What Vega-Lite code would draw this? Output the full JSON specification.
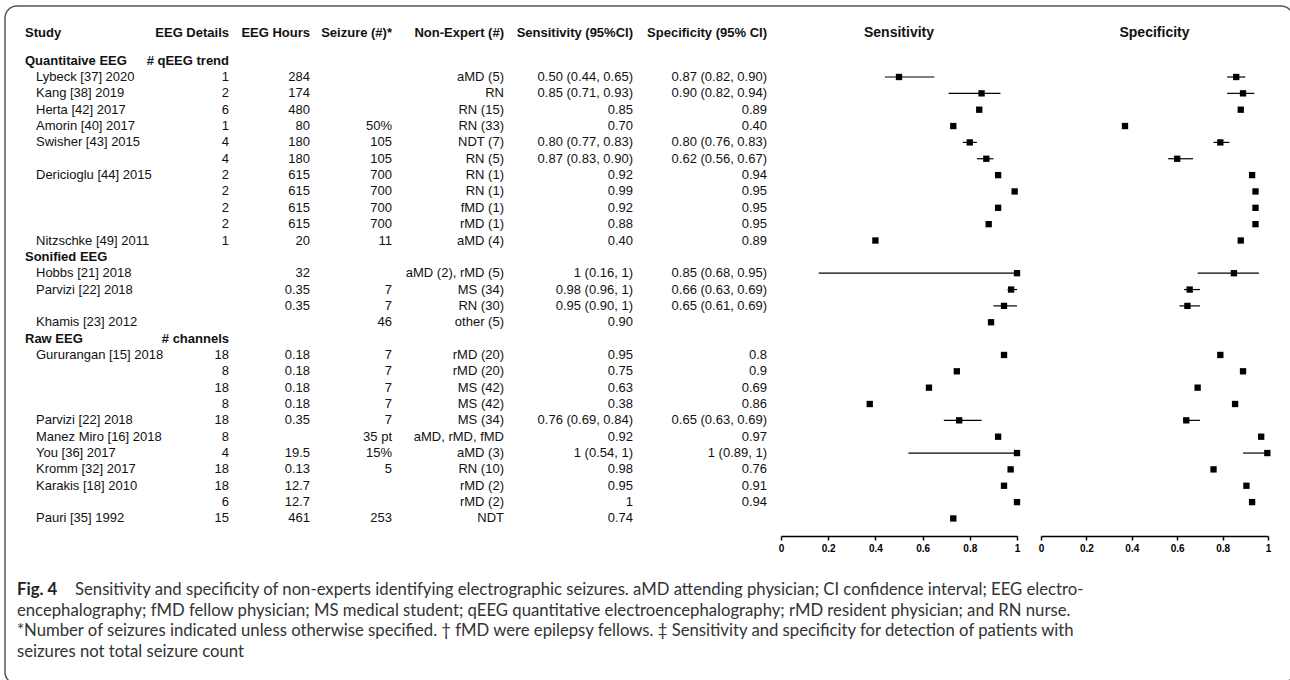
{
  "$schema": "https://vega.github.io/schema/vega-lite/v6.json",
  "width": 1288,
  "height": 678,
  "autosize": {"type": "none"},
  "padding": {"left": 5, "top": 6, "right": 0, "bottom": 0},
  "background": "white",
  "config": {
    "view": {"stroke": "#555", "strokeWidth": 1.5, "cornerRadius": 12},
    "text": {"font": "Liberation Sans", "fontSize": 13, "color": "#111"},
    "axisX": {"orient": "bottom", "offset": -148, "title": null, "grid": false, "labelFlush": false, "labelOverlap": false, "domainColor": "#000", "domainWidth": 1.5, "tickColor": "#000", "tickWidth": 1.5, "tickSize": 4, "labelFont": "Liberation Sans", "labelFontWeight": "bold", "labelFontSize": 10, "labelColor": "#000", "labelPadding": 3}
  },
  "datasets": {
    "t": [
      {"row": -1, "group": "Quantitaive EEG", "sub": "# qEEG trend"},
      {"row": 0, "study": "Lybeck [37] 2020", "details": "1", "hours": "284", "nonexpert": "aMD (5)", "sens_txt": "0.50 (0.44, 0.65)", "spec_txt": "0.87 (0.82, 0.90)", "sens": 0.50, "sens_lo": 0.44, "sens_hi": 0.65, "spec": 0.86, "spec_lo": 0.82, "spec_hi": 0.90},
      {"row": 1, "study": "Kang [38] 2019", "details": "2", "hours": "174", "nonexpert": "RN", "sens_txt": "0.85 (0.71, 0.93)", "spec_txt": "0.90 (0.82, 0.94)", "sens": 0.85, "sens_lo": 0.71, "sens_hi": 0.93, "spec": 0.89, "spec_lo": 0.82, "spec_hi": 0.94},
      {"row": 2, "study": "Herta [42] 2017", "details": "6", "hours": "480", "nonexpert": "RN (15)", "sens_txt": "0.85", "spec_txt": "0.89", "sens": 0.84, "spec": 0.88},
      {"row": 3, "study": "Amorin [40] 2017", "details": "1", "hours": "80", "seizures": "50%", "nonexpert": "RN (33)", "sens_txt": "0.70", "spec_txt": "0.40", "sens": 0.73, "spec": 0.37},
      {"row": 4, "study": "Swisher [43] 2015", "details": "4", "hours": "180", "seizures": "105", "nonexpert": "NDT (7)", "sens_txt": "0.80 (0.77, 0.83)", "spec_txt": "0.80 (0.76, 0.83)", "sens": 0.80, "sens_lo": 0.77, "sens_hi": 0.83, "spec": 0.79, "spec_lo": 0.76, "spec_hi": 0.83},
      {"row": 5, "details": "4", "hours": "180", "seizures": "105", "nonexpert": "RN (5)", "sens_txt": "0.87 (0.83, 0.90)", "spec_txt": "0.62 (0.56, 0.67)", "sens": 0.87, "sens_lo": 0.83, "sens_hi": 0.90, "spec": 0.60, "spec_lo": 0.56, "spec_hi": 0.67},
      {"row": 6, "study": "Dericioglu [44] 2015", "details": "2", "hours": "615", "seizures": "700", "nonexpert": "RN (1)", "sens_txt": "0.92", "spec_txt": "0.94", "sens": 0.92, "spec": 0.93},
      {"row": 7, "details": "2", "hours": "615", "seizures": "700", "nonexpert": "RN (1)", "sens_txt": "0.99", "spec_txt": "0.95", "sens": 0.99, "spec": 0.945},
      {"row": 8, "details": "2", "hours": "615", "seizures": "700", "nonexpert": "fMD (1)", "sens_txt": "0.92", "spec_txt": "0.95", "sens": 0.92, "spec": 0.945},
      {"row": 9, "details": "2", "hours": "615", "seizures": "700", "nonexpert": "rMD (1)", "sens_txt": "0.88", "spec_txt": "0.95", "sens": 0.88, "spec": 0.945},
      {"row": 10, "study": "Nitzschke [49] 2011", "details": "1", "hours": "20", "seizures": "11", "nonexpert": "aMD (4)", "sens_txt": "0.40", "spec_txt": "0.89", "sens": 0.40, "spec": 0.88},
      {"row": 11, "group": "Sonified EEG"},
      {"row": 12, "study": "Hobbs [21] 2018", "hours": "32", "nonexpert": "aMD (2), rMD (5)", "sens_txt": "1 (0.16, 1)", "spec_txt": "0.85 (0.68, 0.95)", "sens": 1, "sens_lo": 0.16, "sens_hi": 1, "spec": 0.85, "spec_lo": 0.69, "spec_hi": 0.96},
      {"row": 13, "study": "Parvizi [22] 2018", "hours": "0.35", "seizures": "7", "nonexpert": "MS (34)", "sens_txt": "0.98 (0.96, 1)", "spec_txt": "0.66 (0.63, 0.69)", "sens": 0.975, "sens_lo": 0.96, "sens_hi": 1, "spec": 0.655, "spec_lo": 0.63, "spec_hi": 0.70},
      {"row": 14, "hours": "0.35", "seizures": "7", "nonexpert": "RN (30)", "sens_txt": "0.95 (0.90, 1)", "spec_txt": "0.65 (0.61, 0.69)", "sens": 0.945, "sens_lo": 0.90, "sens_hi": 1, "spec": 0.645, "spec_lo": 0.61, "spec_hi": 0.70},
      {"row": 15, "study": "Khamis [23] 2012", "seizures": "46", "nonexpert": "other (5)", "sens_txt": "0.90", "sens": 0.89},
      {"row": 16, "group": "Raw EEG", "sub": "# channels"},
      {"row": 17, "study": "Gururangan [15] 2018", "details": "18", "hours": "0.18", "seizures": "7", "nonexpert": "rMD (20)", "sens_txt": "0.95", "spec_txt": "0.8", "sens": 0.945, "spec": 0.79},
      {"row": 18, "details": "8", "hours": "0.18", "seizures": "7", "nonexpert": "rMD (20)", "sens_txt": "0.75", "spec_txt": "0.9", "sens": 0.745, "spec": 0.89},
      {"row": 19, "details": "18", "hours": "0.18", "seizures": "7", "nonexpert": "MS (42)", "sens_txt": "0.63", "spec_txt": "0.69", "sens": 0.627, "spec": 0.69},
      {"row": 20, "details": "8", "hours": "0.18", "seizures": "7", "nonexpert": "MS (42)", "sens_txt": "0.38", "spec_txt": "0.86", "sens": 0.376, "spec": 0.855},
      {"row": 21, "study": "Parvizi [22] 2018", "details": "18", "hours": "0.35", "seizures": "7", "nonexpert": "MS (34)", "sens_txt": "0.76 (0.69, 0.84)", "spec_txt": "0.65 (0.63, 0.69)", "sens": 0.755, "sens_lo": 0.69, "sens_hi": 0.85, "spec": 0.64, "spec_lo": 0.625, "spec_hi": 0.70},
      {"row": 22, "study": "Manez Miro [16] 2018", "details": "8", "seizures": "35 pt", "nonexpert": "aMD, rMD, fMD", "sens_txt": "0.92", "spec_txt": "0.97", "sens": 0.92, "spec": 0.97},
      {"row": 23, "study": "You [36] 2017", "details": "4", "hours": "19.5", "seizures": "15%", "nonexpert": "aMD (3)", "sens_txt": "1 (0.54, 1)", "spec_txt": "1 (0.89, 1)", "sens": 1, "sens_lo": 0.54, "sens_hi": 1, "spec": 0.997, "spec_lo": 0.89, "spec_hi": 1},
      {"row": 24, "study": "Kromm [32] 2017", "details": "18", "hours": "0.13", "seizures": "5", "nonexpert": "RN (10)", "sens_txt": "0.98", "spec_txt": "0.76", "sens": 0.973, "spec": 0.76},
      {"row": 25, "study": "Karakis [18] 2010", "details": "18", "hours": "12.7", "nonexpert": "rMD (2)", "sens_txt": "0.95", "spec_txt": "0.91", "sens": 0.945, "spec": 0.905},
      {"row": 26, "details": "6", "hours": "12.7", "nonexpert": "rMD (2)", "sens_txt": "1", "spec_txt": "0.94", "sens": 1, "spec": 0.93},
      {"row": 27, "study": "Pauri [35] 1992", "details": "15", "hours": "461", "seizures": "253", "nonexpert": "NDT", "sens_txt": "0.74", "sens": 0.73}
    ],
    "cols": [
      {"key": "study", "name": "Study", "col": 0},
      {"key": "details", "name": "EEG Details", "col": 2},
      {"key": "hours", "name": "EEG Hours", "col": 3},
      {"key": "seizures", "name": "Seizure (#)*", "col": 4},
      {"key": "nonexpert", "name": "Non-Expert (#)", "col": 5},
      {"key": "sens_txt", "name": "Sensitivity (95%CI)", "col": 6},
      {"key": "spec_txt", "name": "Specificity (95% CI)", "col": 7}
    ],
    "cap": [
      {"line": 1, "lead": "Fig. 4", "txt": "Sensitivity and specificity of non-experts identifying electrographic seizures. aMD attending physician; CI confidence interval; EEG electro-"},
      {"line": 2, "txt": "encephalography; fMD fellow physician; MS medical student; qEEG quantitative electroencephalography; rMD resident physician; and RN nurse."},
      {"line": 3, "txt": "*Number of seizures indicated unless otherwise specified. † fMD were epilepsy fellows. ‡ Sensitivity and specificity for detection of patients with"},
      {"line": 4, "txt": "seizures not total seizure count"}
    ],
    "panels": [{"panel": "Sensitivity"}],
    "panels2": [{"panel": "Specificity"}]
  },
  "resolve": {"scale": {"x": "independent", "y": "independent"}, "axis": {"x": "independent", "y": "independent"}},
  "layer": [
    {
      "layer": [
        {
          "data": {"name": "t"},
          "transform": [{"filter": "isValid(datum.study)"}],
          "mark": {"type": "text", "align": "left"},
          "encoding": {
            "x": {"datum": 1, "type": "quantitative", "scale": {"domain": [0, 1, 2, 3, 4, 5, 6, 7], "range": [20, 31, 224, 305, 387, 499, 628, 762], "nice": false, "zero": false}, "axis": null},
            "y": {"field": "row", "type": "quantitative", "scale": {"domain": [0, 27], "range": [71, 512.45], "nice": false, "zero": false}, "axis": null},
            "text": {"field": "study"}
          }
        },
        {
          "data": {"name": "t"},
          "transform": [{"filter": "isValid(datum.group)"}],
          "mark": {"type": "text", "align": "left", "fontWeight": "bold"},
          "encoding": {
            "x": {"datum": 0, "type": "quantitative", "axis": null},
            "y": {"field": "row", "type": "quantitative", "axis": null},
            "text": {"field": "group"}
          }
        },
        {
          "data": {"name": "t"},
          "transform": [{"filter": "isValid(datum.sub)"}],
          "mark": {"type": "text", "align": "right", "fontWeight": "bold"},
          "encoding": {
            "x": {"datum": 2, "type": "quantitative", "axis": null},
            "y": {"field": "row", "type": "quantitative", "axis": null},
            "text": {"field": "sub"}
          }
        },
        {
          "data": {"name": "t"},
          "transform": [
            {"fold": ["details", "hours", "seizures", "nonexpert", "sens_txt", "spec_txt"], "as": ["key", "txt"]},
            {"filter": "isValid(datum.txt)"},
            {"lookup": "key", "from": {"data": {"name": "cols"}, "key": "key", "fields": ["col"]}}
          ],
          "mark": {"type": "text", "align": "right"},
          "encoding": {
            "x": {"field": "col", "type": "quantitative", "axis": null},
            "y": {"field": "row", "type": "quantitative", "axis": null},
            "text": {"field": "txt"}
          }
        },
        {
          "data": {"name": "cols"},
          "transform": [{"filter": "datum.col > 0"}],
          "mark": {"type": "text", "align": "right", "fontWeight": "bold"},
          "encoding": {
            "x": {"field": "col", "type": "quantitative", "axis": null},
            "y": {"datum": -2.7, "type": "quantitative", "axis": null},
            "text": {"field": "name"}
          }
        },
        {
          "data": {"name": "cols"},
          "transform": [{"filter": "datum.col == 0"}],
          "mark": {"type": "text", "align": "left", "fontWeight": "bold"},
          "encoding": {
            "x": {"field": "col", "type": "quantitative", "axis": null},
            "y": {"datum": -2.7, "type": "quantitative", "axis": null},
            "text": {"field": "name"}
          }
        }
      ]
    },
    {
      "layer": [
        {
          "data": {"name": "t"},
          "transform": [{"filter": "isValid(datum.sens_lo)"}],
          "mark": {"type": "rule", "color": "#000", "strokeWidth": 1.2},
          "encoding": {
            "x": {"field": "sens_lo", "type": "quantitative", "scale": {"domain": [0, 1], "range": [776, 1012], "nice": false, "zero": false}, "axis": {"orient": "bottom", "tickCount": 5, "format": "~g", "labelOverlap": false}},
            "x2": {"field": "sens_hi"},
            "y": {"field": "row", "type": "quantitative", "scale": {"domain": [0, 27], "range": [71, 512.45], "nice": false, "zero": false}, "axis": null}
          }
        },
        {
          "data": {"name": "t"},
          "transform": [{"filter": "isValid(datum.sens)"}],
          "mark": {"type": "square", "size": 40, "filled": true, "color": "#000", "opacity": 1},
          "encoding": {
            "x": {"field": "sens", "type": "quantitative", "axis": {"orient": "bottom", "tickCount": 5, "format": "~g", "labelOverlap": false}},
            "y": {"field": "row", "type": "quantitative", "axis": null}
          }
        },
        {
          "data": {"name": "panels"},
          "mark": {"type": "text", "align": "center", "fontWeight": "bold", "fontSize": 14},
          "encoding": {
            "x": {"datum": 0.5, "type": "quantitative", "axis": {"orient": "bottom", "tickCount": 5, "format": "~g", "labelOverlap": false}},
            "y": {"datum": -2.7, "type": "quantitative", "axis": null},
            "text": {"field": "panel"}
          }
        }
      ]
    },
    {
      "layer": [
        {
          "data": {"name": "t"},
          "transform": [{"filter": "isValid(datum.spec_lo)"}],
          "mark": {"type": "rule", "color": "#000", "strokeWidth": 1.2},
          "encoding": {
            "x": {"field": "spec_lo", "type": "quantitative", "scale": {"domain": [0, 1], "range": [1036, 1263], "nice": false, "zero": false}, "axis": {"orient": "bottom", "tickCount": 5, "format": "~g", "labelOverlap": false}},
            "x2": {"field": "spec_hi"},
            "y": {"field": "row", "type": "quantitative", "scale": {"domain": [0, 27], "range": [71, 512.45], "nice": false, "zero": false}, "axis": null}
          }
        },
        {
          "data": {"name": "t"},
          "transform": [{"filter": "isValid(datum.spec)"}],
          "mark": {"type": "square", "size": 40, "filled": true, "color": "#000", "opacity": 1},
          "encoding": {
            "x": {"field": "spec", "type": "quantitative", "axis": {"orient": "bottom", "tickCount": 5, "format": "~g", "labelOverlap": false}},
            "y": {"field": "row", "type": "quantitative", "axis": null}
          }
        },
        {
          "data": {"name": "panels2"},
          "mark": {"type": "text", "align": "center", "fontWeight": "bold", "fontSize": 14},
          "encoding": {
            "x": {"datum": 0.5, "type": "quantitative", "axis": {"orient": "bottom", "tickCount": 5, "format": "~g", "labelOverlap": false}},
            "y": {"datum": -2.7, "type": "quantitative", "axis": null},
            "text": {"field": "panel"}
          }
        }
      ]
    },
    {
      "layer": [
        {
          "data": {"name": "cap"},
          "transform": [{"filter": "isValid(datum.lead)"}],
          "mark": {"type": "text", "align": "left", "font": "Lato", "fontSize": 16.7, "fontWeight": "bold", "color": "#222"},
          "encoding": {
            "x": {"datum": 0, "type": "quantitative", "scale": {"domain": [0, 1], "range": [12, 1280], "nice": false, "zero": false}, "axis": null},
            "y": {"field": "line", "type": "quantitative", "scale": {"domain": [1, 4], "range": [584, 645.5], "nice": false, "zero": false}, "axis": null},
            "text": {"field": "lead"}
          }
        },
        {
          "data": {"name": "cap"},
          "transform": [{"filter": "datum.line == 1"}],
          "mark": {"type": "text", "align": "left", "font": "Lato", "fontSize": 16.7, "color": "#333", "dx": 58},
          "encoding": {
            "x": {"datum": 0, "type": "quantitative", "axis": null},
            "y": {"field": "line", "type": "quantitative", "axis": null},
            "text": {"field": "txt"}
          }
        },
        {
          "data": {"name": "cap"},
          "transform": [{"filter": "datum.line > 1"}],
          "mark": {"type": "text", "align": "left", "font": "Lato", "fontSize": 16.7, "color": "#333"},
          "encoding": {
            "x": {"datum": 0, "type": "quantitative", "axis": null},
            "y": {"field": "line", "type": "quantitative", "axis": null},
            "text": {"field": "txt"}
          }
        }
      ]
    }
  ]
}
